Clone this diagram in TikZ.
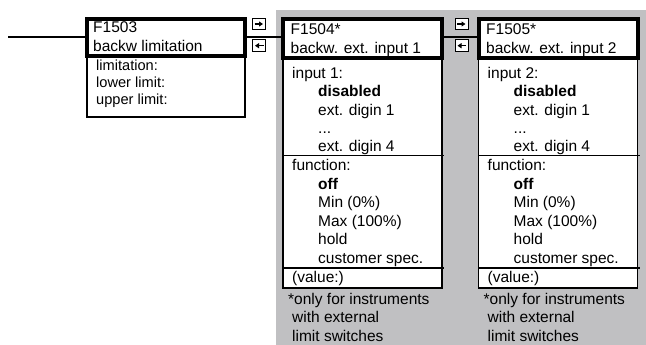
\documentclass[tikz,border=0pt]{standalone}
\usepackage{fontspec}
\setmainfont{Liberation Sans}
\usetikzlibrary{arrows.meta}
\definecolor{panelgray}{RGB}{192,192,194}
\begin{document}
\begin{tikzpicture}[x=1pt,y=-1pt,
  txt/.style={anchor=base west, inner sep=0pt, font=\fontsize{15.5}{18}\selectfont},
  stxt/.style={anchor=base west, inner sep=0pt, font=\fontsize{14.6}{17}\selectfont},
  btxt/.style={anchor=base west, inner sep=0pt, font=\fontsize{15.5}{18}\selectfont\bfseries},
  headbox/.style={draw, fill=white, line width=4pt, inner sep=0pt, outer sep=0pt, anchor=north west},
  subbox/.style={draw, fill=white, line width=1.2pt, inner sep=0pt, outer sep=0pt, anchor=north west},
  icon/.style={draw, fill=white, line width=1pt, minimum width=13pt, minimum height=11.5pt, inner sep=0pt, outer sep=0pt},
  iconarrow/.style={line width=1.3pt, -{Triangle[length=4pt,width=5pt]}},
  conn/.style={line width=1.2pt},
  divider/.style={line width=1.2pt}]
\useasboundingbox (0,0) rectangle (646,345);
\fill[panelgray] (276,10) rectangle (646,345);

\coordinate (lin) at (8,37);
% F1503
\node[subbox, minimum width=158pt, minimum height=61pt] (s0) at (87,56) {};
\node[headbox, minimum width=158pt, minimum height=37pt] (h0) at (87,19) {};
\node[txt] (t01) at (93,33) {F1503};
\node[txt] (t02) at (93,51.5) {backw limitation};
\node[stxt] (t03) at (96,71) {limitation:};
\node[stxt] (t04) at (96,88) {lower limit:};
\node[stxt] (t05) at (96,105) {upper limit:};

% F1504 / F1505 columns
\foreach \dx/\code/\num in {0/F1504/1, 195.5/F1505/2}{
  \begin{scope}[xshift=\dx pt]
    \node[subbox, minimum width=159pt, minimum height=230pt] (s\num) at (283,58) {};
    \node[headbox, minimum width=159pt, minimum height=39pt] (h\num) at (283,19) {};
    \coordinate (da\num) at (283,155.5);
    \coordinate (db\num) at (283,268);
    \draw[divider] (da\num) -- ([xshift=2pt]da\num -| s\num.east);
    \draw[divider] (db\num) -- ([xshift=2pt]db\num -| s\num.east);
    \node[txt] (a\num) at (290.5,34.3) {\code*};
    \node[txt] (b\num) at (290.5,53.3) {backw. ext. input \num};
    \node[txt] (c\num) at (292,78.3) {input \num:};
    \node[btxt] (d\num) at (318,96.7) {disabled};
    \node[txt] (e\num) at (318,115) {ext. digin 1};
    \node[txt] (f\num) at (318,133.4) {...};
    \node[txt] (g\num) at (318,151.7) {ext. digin 4};
    \node[txt] (i\num) at (292,170.5) {function:};
    \node[btxt] (j\num) at (318,189) {off};
    \node[txt] (k\num) at (318,207.5) {Min (0\%)};
    \node[txt] (l\num) at (318,226) {Max (100\%)};
    \node[txt] (m\num) at (318,244.5) {hold};
    \node[txt] (n\num) at (318,263) {customer spec.};
    \node[txt] (o\num) at (292,282.7) {(value:)};
    \node[txt] (p\num) at (288,304) {*only for instruments};
    \node[txt] (q\num) at (292,322.5) {with external};
    \node[txt] (r\num) at (292,341) {limit switches};
  \end{scope}
}

% connecting lines
\draw[conn] (lin) -- (lin -| h0.west);
\draw[conn] (lin -| h0.east) -- (lin -| h1.west);
\draw[conn] (lin -| h1.east) -- (lin -| h2.west);

% navigation icons
\node[icon] (ir1) at (259,24) {};
\node[icon] (il1) at (259,45.7) {};
\node[icon] (ir2) at (461.5,24) {};
\node[icon] (il2) at (461.5,45.7) {};
\draw[iconarrow] ([xshift=-4.5pt]ir1.center) -- ([xshift=4pt]ir1.center);
\draw[iconarrow] ([xshift=4.5pt]il1.center) -- ([xshift=-4pt]il1.center);
\draw[iconarrow] ([xshift=-4.5pt]ir2.center) -- ([xshift=4pt]ir2.center);
\draw[iconarrow] ([xshift=4.5pt]il2.center) -- ([xshift=-4pt]il2.center);
\end{tikzpicture}
\end{document}
